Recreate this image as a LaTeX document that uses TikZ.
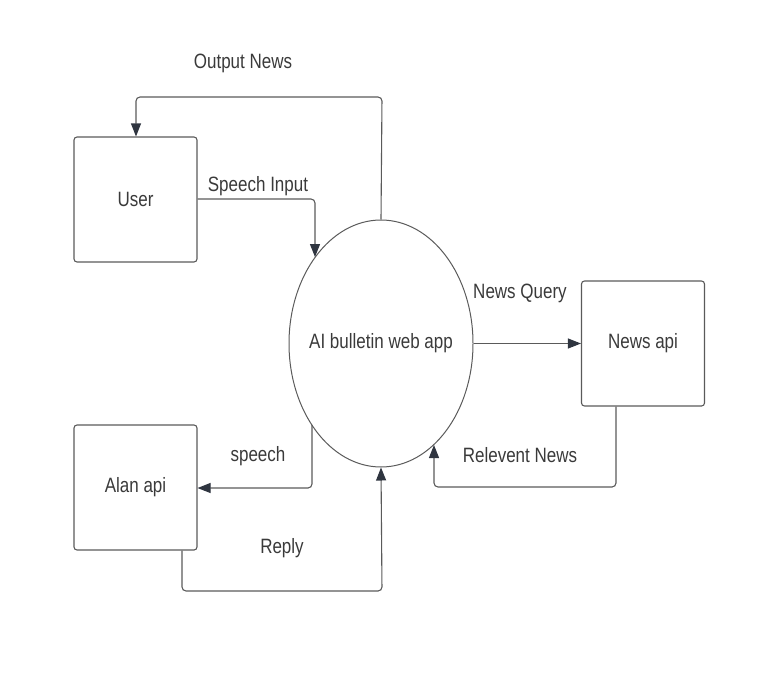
\documentclass[tikz,border=0pt]{standalone}
\usepackage{fontspec}
\setmainfont{Liberation Sans}
\usetikzlibrary{arrows.meta,shapes.geometric}
\definecolor{lin}{HTML}{5A5A5A}
\definecolor{txt}{HTML}{3A3A3A}
\definecolor{tip}{HTML}{2F3540}
\newcommand{\tallt}[1]{\scalebox{1}[1.22]{#1}}
\tikzset{
  txtfont/.style={text=txt, font=\fontsize{17}{20}\selectfont},
  box/.style={draw=lin, line width=1.1pt, rounded corners=3pt, minimum width=123pt, minimum height=125pt, inner sep=0pt, txtfont},
  proc/.style={draw=lin, line width=1pt, ellipse, minimum width=184pt, minimum height=247pt, inner sep=0pt},
  flow/.style={draw=lin, line width=1.1pt, rounded corners=4pt, -{Triangle[length=13pt,width=10pt,color=tip]}},
  lbl/.style={txtfont, inner sep=0pt}
}
\begin{document}
\begin{tikzpicture}[x=1pt,y=-1pt]
\useasboundingbox (0,0) rectangle (760,672);
\node[box] (user) at (135.5,199.5) {\tallt{User}};
\node[box] (alan) at (135.5,487.5) {\tallt{Alan api}};
\node[box] (news) at (643,343.5) {\tallt{News api}};
\node[proc, label={[lbl]center:\tallt{AI bulletin web app}}] (app) at (381,343.5) {};
% Output News
\coordinate (o1) at (382,97);
\coordinate (o2) at (136,97);
\draw[flow] (app.north) -- (o1) -- (o2) -- (o2 |- user.north);
\node[lbl] (lo) at (243,63) {\tallt{Output News}};
% Speech Input
\coordinate (s1) at (315,199);
\coordinate (s2) at (315,257);
\draw[flow] (user.east |- s1) -- (s1) -- (s2);
\node[lbl] (ls) at (258,186) {\tallt{Speech Input}};
% News Query
\draw[flow] (app.east) -- (news.west);
\node[lbl] (lq) at (520,293) {\tallt{News Query}};
% Relevent News
\coordinate (r1) at (616,487);
\coordinate (r2) at (434,487);
\coordinate (r3) at (434,445);
\draw[flow] (r1 |- news.south) -- (r1) -- (r2) -- (r3);
\node[lbl] (lr) at (520,455) {\tallt{Relevent News}};
% speech
\coordinate (p0) at (312,425);
\coordinate (p1) at (312,488);
\draw[flow] (p0) -- (p1) -- (alan.east |- p1);
\node[lbl] (lp) at (258,456) {\tallt{speech}};
% Reply
\coordinate (y1) at (182,591);
\coordinate (y2) at (382,591);
\draw[flow] (y1 |- alan.south) -- (y1) -- (y2) -- (app.south);
\node[lbl] (ly) at (282,548) {\tallt{Reply}};
\end{tikzpicture}
\end{document}
